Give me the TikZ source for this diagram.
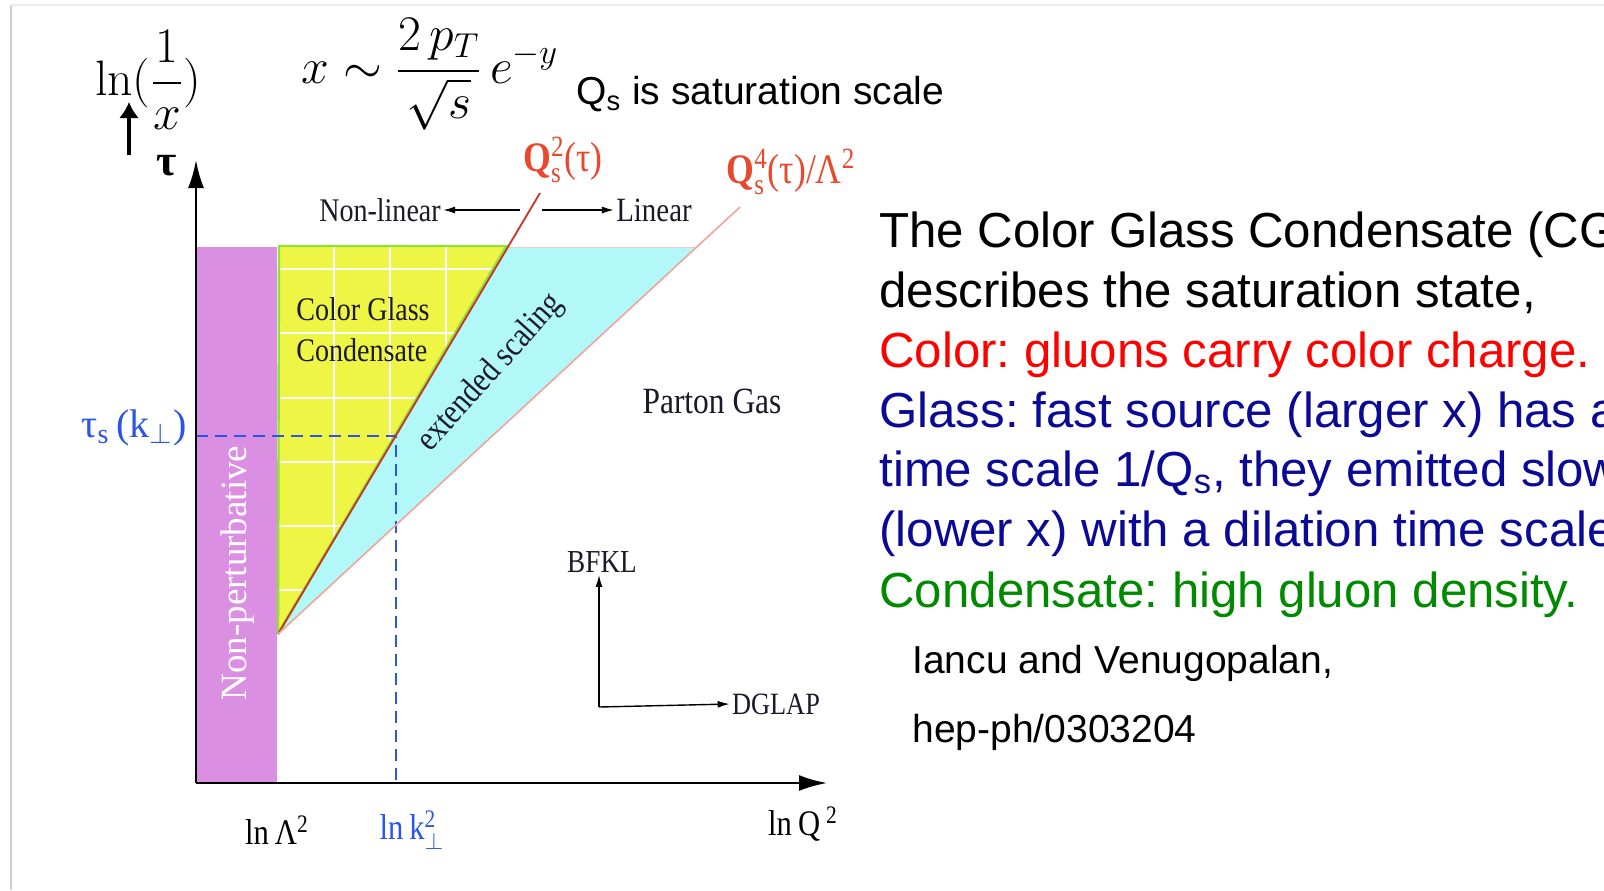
\documentclass[tikz,border=0pt]{standalone}
\usepackage{amsmath}
\usepackage[no-math]{fontspec}
\setmainfont{Liberation Sans}
\newfontfamily\tms[FakeStretch=0.85]{Liberation Serif}
\newfontfamily\tmsw{Liberation Serif}
\usetikzlibrary{arrows.meta}
\frenchspacing
\definecolor{cgPurple}{HTML}{DA8FE2}
\definecolor{cgYellow}{HTML}{EEF544}
\definecolor{cgGreen}{HTML}{8FE03A}
\definecolor{cgCyan}{HTML}{B2F8F8}
\definecolor{cgRed}{HTML}{C8342A}
\definecolor{cgPink}{HTML}{F2A49C}
\definecolor{cgLabel}{HTML}{E8482C}
\definecolor{cgBlue}{HTML}{2A55E6}
\definecolor{cgNavy}{HTML}{0A0A96}
\definecolor{cgRedTxt}{HTML}{FF0000}
\definecolor{cgGreenTxt}{HTML}{008A00}
\definecolor{cgDark}{HTML}{1A1A2A}
\definecolor{cgFrame}{HTML}{CFCFCF}

\begin{document}
\begin{tikzpicture}[
  x=0.5pt, y=-0.5pt,
  lbl/.style   ={font=\tms\fontsize{16.5}{20.5}\selectfont, text=cgDark, inner sep=1pt},
  big/.style   ={font=\tms\fontsize{21}{24}\selectfont, inner sep=1pt},
  tick/.style  ={font=\tms\fontsize{18}{20}\selectfont, inner sep=1pt},
  slide/.style ={font=\fontsize{24.6}{29.9}\selectfont, anchor=base west, inner sep=0pt},
  cite/.style  ={font=\fontsize{19.5}{22}\selectfont, anchor=base west, inner sep=0pt},
  axis/.style  ={line width=1.3pt, -{Latex[length=14pt,width=8pt]}},
  sarrow/.style={line width=0.7pt, -{Latex[length=6pt,width=3.5pt]}},
  kdash/.style ={cgBlue, line width=1.1pt, dash pattern=on 6pt off 3.5pt}]
  \useasboundingbox (0,0) rectangle (1604,890);
  \fill[white] (0,0) rectangle (1604,890);
  \draw[cgFrame, line width=1.3pt] (11,5) -- (11,890);
  \draw[cgFrame!40, line width=0.6pt] (11,5) -- (1604,5);

  \coordinate (O) at (196,783);
  \coordinate (tip) at (278,634);
  \coordinate (ks) at (396,436);

  \fill[cgPurple] (196,247) rectangle (277,783);
  \fill[cgCyan] (508,247) -- (697,247) -- (tip) -- cycle;
  \begin{scope}
    \clip (278,247) -- (508,247) -- (tip) -- cycle;
    \fill[cgYellow] (278,247) rectangle (508,634);
    \draw[white, line width=0.6pt] (334,247) -- (334,634) (390,247) -- (390,634) (446,247) -- (446,634)
      (278,269) -- (508,269) (278,333) -- (508,333) (278,398) -- (508,398)
      (278,462) -- (508,462) (278,526) -- (508,526) (278,590) -- (508,590);
  \end{scope}
  \draw[cgGreen, line width=1.2pt] (tip) -- (279,246) -- (508,246);
  \draw[cgGreen, line width=1.4pt, xshift=-1pt] (tip) -- (508,247);
  \draw[cgPink!60, line width=0.5pt] (508,247) -- (697,247);

  \draw[kdash] (196,436) -- (ks) -- (396,783);
  \draw[cgRed, line width=0.9pt] (tip) -- (540,193);
  \draw[cgPink, line width=0.8pt] (tip) -- (740,207);

  \draw[axis] (O) -- (196,160);
  \draw[axis] (O) -- (827,783);

  \node[font=\tmsw\bfseries\fontsize{22}{24}\selectfont, inner sep=0pt] (tau) at (167,166) {τ};
  \node[font=\tmsw\fontsize{20}{22}\selectfont, text=cgBlue, inner sep=0pt] (taus) at (134,428) {τ\textsubscript{s}\,(k$_\perp$)};
  \node[tick] (lnl) at (277,830) {ln\,Λ\textsuperscript{2}};
  \node[tick, text=cgBlue] (lnk) at (412,830) {ln\,k$^{\text{2}}_{\perp}$};
  \node[tick] (lnq) at (803,824) {ln\,Q\,\textsuperscript{2}};

  \node[big, text=cgLabel] (qs2) at (563,160) {\textbf{Q}$^{\text{2}}_{\text{s}}$(τ)};
  \node[big, text=cgLabel] (qs4) at (791,172) {\textbf{Q}$^{\text{4}}_{\text{s}}$(τ)/Λ\textsuperscript{2}};

  \node[lbl] (nonlin) at (380,210) {Non-linear};
  \node[lbl, font=\tms\fontsize{17}{20}\selectfont] (lin) at (654,210) {Linear};
  \coordinate (ga) at (520,210);
  \coordinate (gb) at (542,210);
  \draw[sarrow] (ga) -- (nonlin);
  \draw[sarrow] (gb) -- (lin);

  \node[lbl, align=left] (cgc) at (363,330) {Color Glass\\Condensate};
  \node[lbl, font=\tms\fontsize{17.5}{20}\selectfont, rotate=48] (ext) at (491,373) {extended scaling};
  \node[lbl, font=\tms\fontsize{18.5}{20}\selectfont] (gas) at (712,401) {Parton Gas};
  \node[font=\tmsw\fontsize{18.5}{20}\selectfont, text=white, rotate=90] (np) at (238,573) {Non-perturbative};

  \node[lbl, font=\tms\fontsize{16}{18}\selectfont] (bfkl) at (602,562) {BFKL};
  \node[lbl, font=\tms\fontsize{15.5}{18}\selectfont] (dglap) at (776,704) {DGLAP};
  \coordinate (corner) at (599,707);
  \draw[sarrow] (corner) -- (corner |- bfkl.south);
  \draw[sarrow] (corner) -- (dglap.west);

  \node[inner sep=0pt, font=\fontsize{26}{28}\selectfont] (lnx) at (148,80) {$\displaystyle\ln(\frac{1}{x})$};
  \coordinate (up0) at (129,155);
  \coordinate (up1) at (129,102);
  \draw[line width=2.2pt, -{Latex[length=8pt,width=10pt]}] (up0) -- (up1);
  \node[inner sep=0pt, font=\fontsize{26}{28}\selectfont] (xform) at (430,74) {$\displaystyle x\sim\frac{2\,p_T}{\sqrt{s}}\,e^{-y}$};
  \node[cite] (sat) at (576,104) {Q\textsubscript{s} is saturation scale};

  \node[slide] (l1) at (879,247) {The Color Glass Condensate (CGC)};
  \node[slide] (l2) at (879,307) {describes the saturation state,};
  \node[slide, text=cgRedTxt] (l3) at (879,367) {Color: gluons carry color charge.};
  \node[slide, text=cgNavy] (l4) at (879,427) {Glass: fast source (larger x) has a long};
  \node[slide, text=cgNavy] (l5) at (879,486) {time scale 1/Q\textsubscript{s}, they emitted slow};
  \node[slide, text=cgNavy] (l6) at (879,546) {(lower x) with a dilation time scale};
  \node[slide, text=cgGreenTxt] (l7) at (879,607) {Condensate: high gluon density.};
  \node[cite] (au) at (912,673) {Iancu and Venugopalan,};
  \node[cite] (ref) at (912,742) {hep-ph/0303204};
\end{tikzpicture}
\end{document}
